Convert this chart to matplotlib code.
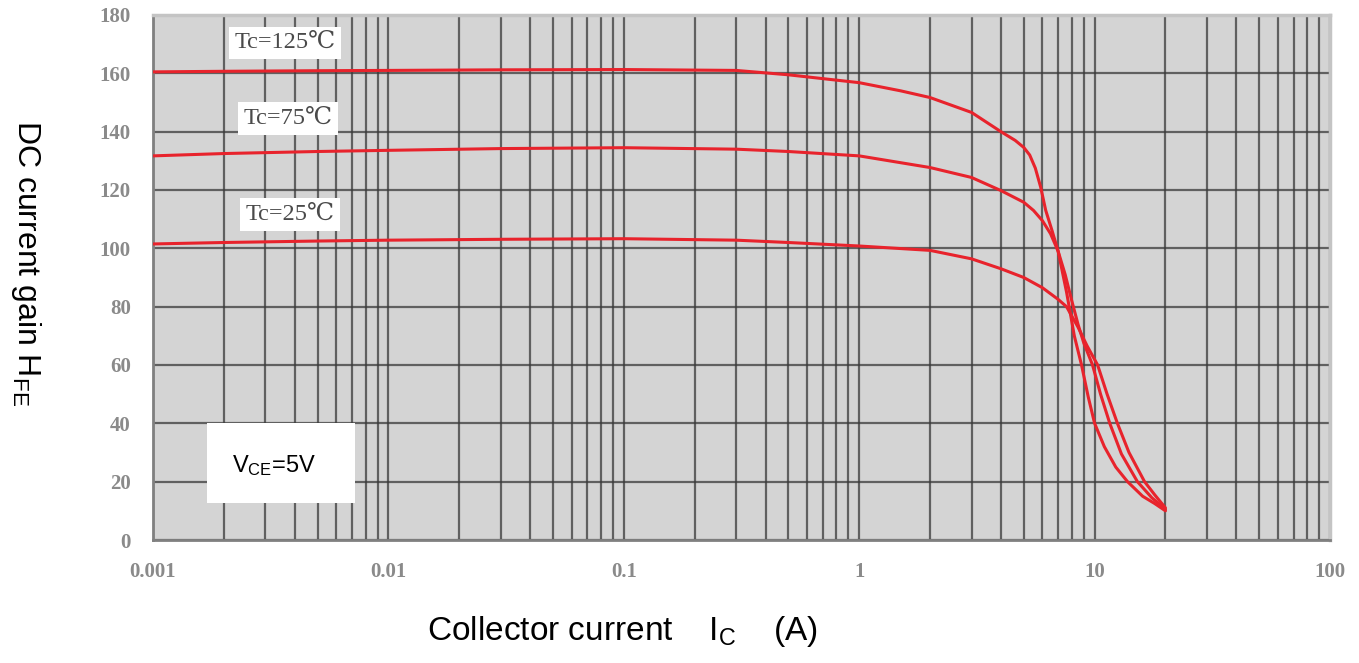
import matplotlib
matplotlib.use('Agg')
import matplotlib.pyplot as plt
from matplotlib.patches import Rectangle
from matplotlib.ticker import LogLocator, NullFormatter

# Datos (Ic en A, hFE)
ic_125 = [0.001, 0.002, 0.005, 0.01, 0.03, 0.1, 0.3, 0.5, 1, 1.5, 2, 3, 4, 4.6, 5, 5.3, 5.6, 5.9, 6.2, 6.6, 7, 7.6, 8.2, 8.8, 9.4, 10, 11, 12.3, 13.8, 16, 18, 20]
hfe_125 = [160.5, 160.7, 160.9, 161, 161.2, 161.3, 161, 159.5, 156.8, 154, 151.7, 146.6, 140, 137, 134.6, 132, 127.5, 121, 113, 106, 99, 85, 70, 60, 49, 40, 32, 25, 20, 15, 12.5, 10]

ic_75 = [0.001, 0.002, 0.005, 0.01, 0.03, 0.1, 0.3, 0.5, 1, 2, 3, 4, 5, 5.5, 6, 6.5, 7, 7.5, 8, 8.5, 9, 9.8, 10.6, 11.6, 13, 15.2, 17.5, 20]
hfe_75 = [131.7, 132.5, 133.2, 133.6, 134.2, 134.5, 134, 133.2, 131.7, 127.7, 124.3, 119.8, 115.8, 113, 109.5, 105, 99, 91, 82, 74, 67.5, 60, 50, 40, 29.5, 20, 14.5, 10.5]

ic_25 = [0.001, 0.002, 0.005, 0.01, 0.03, 0.1, 0.3, 0.5, 1, 2, 3, 4, 5, 6, 7, 7.6, 8.5, 9.3, 10.3, 11.3, 12.5, 14, 16.3, 18, 20]
hfe_25 = [101.5, 102, 102.5, 102.8, 103.1, 103.3, 102.8, 102, 100.8, 99.3, 96.4, 93, 90, 86.5, 82.5, 80, 73, 66.5, 60, 50, 40, 30, 20, 15.5, 11]

x_ticks = [0.001, 0.01, 0.1, 1, 10, 100]
x_labels = ['0.001', '0.01', '0.1', '1', '10', '100']
y_ticks = [0, 20, 40, 60, 80, 100, 120, 140, 160, 180]

curves = [(ic_125, hfe_125, 'Tc=125℃', 0.00364, 170.5),
          (ic_75, hfe_75, 'Tc=75℃', 0.00374, 144.5),
          (ic_25, hfe_25, 'Tc=25℃', 0.00382, 111.6)]

serif = ['Liberation Serif', 'DejaVu Serif']
sans = ['Liberation Sans', 'DejaVu Sans']

fig = plt.figure(figsize=(13.59, 6.63), dpi=100)
ax = fig.add_axes([153/1359, 123/663, 1177/1359, 525/663])
ax.set_facecolor('#d4d4d4')
ax.set_xscale('log')
ax.set_xlim(0.001, 100)
ax.set_ylim(0, 180)

ax.set_xticks(x_ticks)
ax.set_xticklabels(x_labels)
ax.xaxis.set_minor_locator(LogLocator(base=10, subs=range(2, 10)))
ax.xaxis.set_minor_formatter(NullFormatter())
ax.set_yticks(y_ticks)

# cuadricula
ax.grid(True, which='both', axis='x', color='#3a3a3a', lw=1.6, alpha=0.75)
ax.grid(True, which='major', axis='y', color='#3a3a3a', lw=1.6, alpha=0.75)
ax.set_axisbelow(True)

ax.tick_params(which='both', length=0)
ax.tick_params(axis='x', pad=16)
ax.tick_params(axis='y', pad=16)
for lab in ax.get_xticklabels() + ax.get_yticklabels():
    lab.set_family(serif)
    lab.set_fontsize(15)
    lab.set_fontweight('bold')
    lab.set_color('#8a8a8a')

for side in ['left', 'bottom']:
    ax.spines[side].set_color('#808080')
    ax.spines[side].set_linewidth(2)
for side in ['top', 'right']:
    ax.spines[side].set_color('#c4c4c4')
    ax.spines[side].set_linewidth(2.5)

for xs, ys, txt, tx, ty in curves:
    ax.plot(xs, ys, color='#e8232c', lw=2.2, zorder=3,
            solid_capstyle='round', solid_joinstyle='round')
    ax.text(tx, ty, txt, ha='center', va='center', fontsize=17.5, family=serif,
            color='#4a4a4a', zorder=4,
            bbox=dict(facecolor='white', edgecolor='none', pad=4))

# caja V_CE
ax.add_patch(Rectangle((0.0459, 0.0705), 0.1257, 0.1524, transform=ax.transAxes,
                       facecolor='white', edgecolor='none', zorder=4))
ax.text(0.1028, 0.141, r'V$\mathregular{_{CE}}$=5V', transform=ax.transAxes,
        ha='center', va='center', fontsize=17, family=sans, color='black', zorder=5)

fig.text(0.019, 0.603, r'DC current gain H$\mathregular{_{FE}}$', rotation=-90,
         ha='center', va='center', fontsize=23, family=sans)
fig.text(0.458, 0.047, r'Collector current    I$\mathregular{_{C}}$    (A)',
         ha='center', va='center', fontsize=24, family=sans)

fig.savefig('out.png', dpi=100)
